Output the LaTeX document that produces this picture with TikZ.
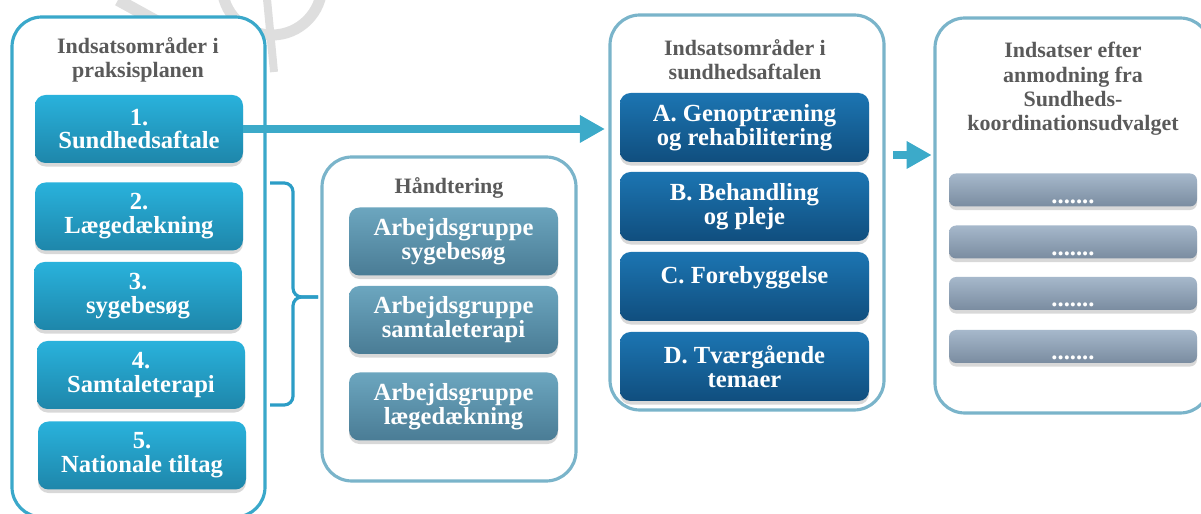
\documentclass[tikz,border=0pt]{standalone}
\usepackage{fontspec}
\setmainfont{Liberation Serif}
\usetikzlibrary{arrows.meta,positioning,calc,shadows}
\definecolor{PanelCyan}{RGB}{58,168,202}
\definecolor{PanelSteel}{RGB}{122,180,202}
\definecolor{HeadGray}{RGB}{90,90,90}
\definecolor{CyanTop}{RGB}{41,178,220}
\definecolor{CyanBot}{RGB}{30,134,170}
\definecolor{SteelTop}{RGB}{108,166,191}
\definecolor{SteelBot}{RGB}{74,124,149}
\definecolor{NavyTop}{RGB}{28,117,178}
\definecolor{NavyBot}{RGB}{16,78,126}
\definecolor{GrayTop}{RGB}{166,184,203}
\definecolor{GrayBot}{RGB}{122,140,160}
\definecolor{ArrowCyan}{RGB}{60,170,201}
\definecolor{BracketCyan}{RGB}{44,157,198}
\definecolor{Watermark}{RGB}{222,222,222}
\tikzset{
  >=Latex,
  panel/.style={draw=PanelSteel,line width=1.8pt,rounded corners=17pt,fill=white},
  heading/.style={font=\bfseries\fontsize{12.5}{13.8}\selectfont,text=HeadGray,align=center},
  tilebox/.style={rounded corners=6pt,align=center,text=white,font=\bfseries\fontsize{14}{13.6}\selectfont,
    drop shadow={shadow xshift=0pt,shadow yshift=-2pt,opacity=.3}},
  areabox/.style={tilebox,top color=CyanTop,bottom color=CyanBot,minimum width=4.16cm,minimum height=1.36cm},
  groupbox/.style={tilebox,top color=SteelTop,bottom color=SteelBot,minimum width=4.18cm,minimum height=1.36cm},
  agreebox/.style={tilebox,top color=NavyTop,bottom color=NavyBot,minimum width=4.98cm,minimum height=1.38cm},
  itembox/.style={tilebox,rounded corners=4pt,top color=GrayTop,bottom color=GrayBot,minimum width=4.96cm,minimum height=.66cm},
  dotlabel/.style={text=white,font=\bfseries\fontsize{14}{14}\selectfont,anchor=base,yshift=2pt},
  flow/.style={-{Triangle[length=5mm,width=5.2mm]},line width=4.3pt,draw=ArrowCyan},
  bracket/.style={draw=BracketCyan,line width=1.8pt,rounded corners=5pt}
}
\begin{document}
\begin{tikzpicture}[x=1cm,y=1cm]
  \useasboundingbox (0,0) rectangle (24.02,10.28);
  % watermark
  \draw[Watermark,line width=.24cm] (2.36,10.28) -- (3.16,9.84);
  \draw[Watermark,line width=.22cm] (5.44,10.58) circle (1.0);
  \draw[Watermark,line width=.16cm] (5.34,10.3) -- (5.48,8.84);
  % panels
  \node[panel,draw=PanelCyan,minimum width=5.06cm,minimum height=10.0cm] (plan) at (2.77,4.94) {};
  \node[panel,minimum width=5.08cm,minimum height=6.48cm] (hand) at (8.98,3.9) {};
  \node[panel,minimum width=5.48cm,minimum height=7.9cm] (agree) at (14.94,6.03) {};
  \node[panel,minimum width=5.5cm,minimum height=7.9cm] (req) at (21.45,5.97) {};
  \node[heading] (planTitle) at (2.76,9.08) {Indsatsområder i\\praksisplanen};
  \node[heading] (handTitle) at (8.98,6.52) {Håndtering};
  \node[heading] (agreeTitle) at (14.9,9.08) {Indsatsområder i\\sundhedsaftalen};
  \node[heading] (reqTitle) at (21.46,8.5) {Indsatser efter\\anmodning fra\\Sundheds-\\koordinationsudvalget};
  % praksisplan
  \node[areabox] (b1) at (2.78,7.7) {1.\\Sundhedsaftale};
  \node[areabox] (b2) at (2.78,5.95) {2.\\Lægedækning};
  \node[areabox] (b3) at (2.76,4.36) {3.\\sygebesøg};
  \node[areabox] (b4) at (2.82,2.78) {4.\\Samtaleterapi};
  \node[areabox] (b5) at (2.84,1.17) {5.\\Nationale tiltag};
  % arbejdsgrupper
  \node[groupbox] (g1) at (9.07,5.45) {Arbejdsgruppe\\sygebesøg};
  \node[groupbox] (g2) at (9.07,3.88) {Arbejdsgruppe\\samtaleterapi};
  \node[groupbox] (g3) at (9.07,2.15) {Arbejdsgruppe\\lægedækning};
  % sundhedsaftale
  \node[agreebox] (a1) at (14.89,7.73) {A. Genoptræning\\og rehabilitering};
  \node[agreebox] (a2) at (14.89,6.15) {B. Behandling\\og pleje};
  \node[agreebox] (a3) at (14.89,4.55) {C. Forebyggelse\\\mbox{}};
  \node[agreebox] (a4) at (14.89,2.95) {D. Tværgående\\temaer};
  \foreach \y [count=\i] in {6.48,5.44,4.41,3.35}
    \node[itembox,label={[dotlabel]south:.......}] (k\i) at (21.46,\y) {};
  % connectors
  \draw[flow,shorten >=2pt] (b1.east) -- (b1.east -| agree.west);
  \coordinate (hop) at (17.86,7.18);
  \draw[flow,shorten >=1pt] (hop) -- (hop -| req.west);
  \draw[bracket] (5.4,6.62) -- (5.86,6.62) -- (5.86,4.34) -- (6.36,4.34);
  \draw[bracket] (5.4,2.18) -- (5.86,2.18) -- (5.86,4.34) -- (6.36,4.34);
\end{tikzpicture}
\end{document}
